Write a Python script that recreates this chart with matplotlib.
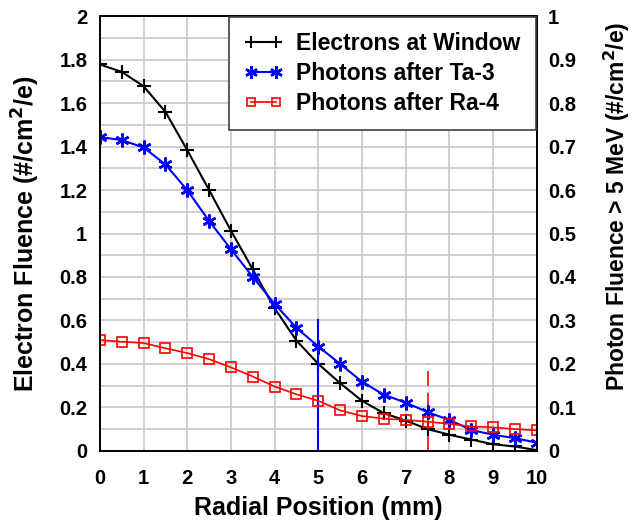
import numpy as np
import matplotlib
matplotlib.use('Agg')
import matplotlib.pyplot as plt

plt.rcParams['font.family'] = ['Liberation Sans', 'DejaVu Sans']
plt.rcParams['font.weight'] = 'bold'

# радиальная позиция, мм
radius = [0, 0.5, 1, 1.5, 2, 2.5, 3, 3.5, 4, 4.5, 5, 5.5, 6, 6.5, 7, 7.5, 8, 8.5, 9, 9.5, 10]

# электроны у окна (левая ось)
electrons = [1.778, 1.744, 1.678, 1.56, 1.384, 1.20, 1.013, 0.835, 0.656, 0.507, 0.40,
             0.311, 0.230, 0.173, 0.139, 0.10, 0.074, 0.052, 0.03, 0.02, 0.003]

# фотоны (правая ось)
photons_ta3 = [0.722, 0.715, 0.698, 0.659, 0.60, 0.529, 0.464, 0.40, 0.338, 0.283, 0.24,
               0.20, 0.159, 0.129, 0.111, 0.089, 0.071, 0.048, 0.037, 0.029, 0.019]
photons_ra4 = [0.255, 0.251, 0.248, 0.236, 0.225, 0.211, 0.192, 0.171, 0.148, 0.13, 0.115,
               0.093, 0.080, 0.074, 0.071, 0.067, 0.062, 0.056, 0.054, 0.05, 0.047]

# вертикальные маркеры
blue_mark = (5.0, 0.60)
red_mark = (7.5, 0.40)

fig = plt.figure(figsize=(6.36, 5.23), dpi=100)
ax = fig.add_axes([0.157, 0.138, 0.687, 0.831])
ax2 = ax.twinx()

ax.set_xlim(0, 10)
ax.set_ylim(0, 2)
ax2.set_ylim(0, 1)

ax.set_xticks(np.arange(0, 11, 1))
ax.set_yticks(np.arange(0, 2.01, 0.2))
ax.set_yticks(np.arange(0, 2.01, 0.1), minor=True)
ax2.set_yticks(np.arange(0, 1.01, 0.1))
ax.yaxis.set_major_formatter(matplotlib.ticker.FormatStrFormatter('%g'))
ax2.yaxis.set_major_formatter(matplotlib.ticker.FormatStrFormatter('%g'))
ax.set_xticklabels([str(v) for v in range(11)])

ax.grid(True, which='both', color='#c8c8c8', lw=1.2)
ax.set_axisbelow(True)
ax.tick_params(axis='x', which='both', length=0, labelsize=14.5, pad=13)
ax.tick_params(axis='y', which='both', length=0, labelsize=14.5, pad=9)
ax2.tick_params(axis='y', which='both', length=0, labelsize=14.5, pad=8)
for a in (ax, ax2):
    for s in a.spines.values():
        s.set_color('black')
        s.set_linewidth(1.2)

asterisk = (6, 2, 0)
l1, = ax.plot(radius, electrons, color='black', lw=1.5, marker='+', ms=10, mew=1.5,
              label='Electrons at Window')
l2, = ax2.plot(radius, photons_ta3, color='blue', lw=1.5, marker=asterisk, ms=10, mew=1.8,
               label='Photons after Ta-3')
l3, = ax2.plot(radius, photons_ra4, color='red', lw=1.2, marker='s', ms=7, mfc='none',
               mew=1.2, label='Photons after Ra-4')

ax.plot([blue_mark[0]] * 2, [0, blue_mark[1]], color='blue', lw=1.5)
ax.plot([red_mark[0]] * 2, [0, red_mark[1]], color='red', lw=1.2, dashes=(9, 4))

ax.set_xlabel('Radial Position (mm)', fontsize=18, fontweight='bold')
ax.set_ylabel('Electron Fluence (#/cm$^2$/e)', fontsize=18, fontweight='bold')
ax2.set_ylabel('Photon Fluence > 5 MeV (#/cm$^2$/e)', fontsize=16.5, fontweight='bold')
ax.xaxis.set_label_coords(0.5, -0.103)
ax.yaxis.set_label_coords(-0.133, 0.5)
ax2.yaxis.set_label_coords(1.148, 0.563)

leg = ax2.legend(handles=[l1, l2, l3], loc='upper right', fontsize=16.5, frameon=True,
                 fancybox=False, borderaxespad=0.05, handlelength=1.7, handletextpad=0.6,
                 borderpad=0.65, labelspacing=0.3, numpoints=2, markerscale=0.9)
leg.get_frame().set_edgecolor('#404040')
leg.get_frame().set_linewidth(1.2)
leg.get_frame().set_alpha(1)

plt.savefig('out.png', dpi=100)
